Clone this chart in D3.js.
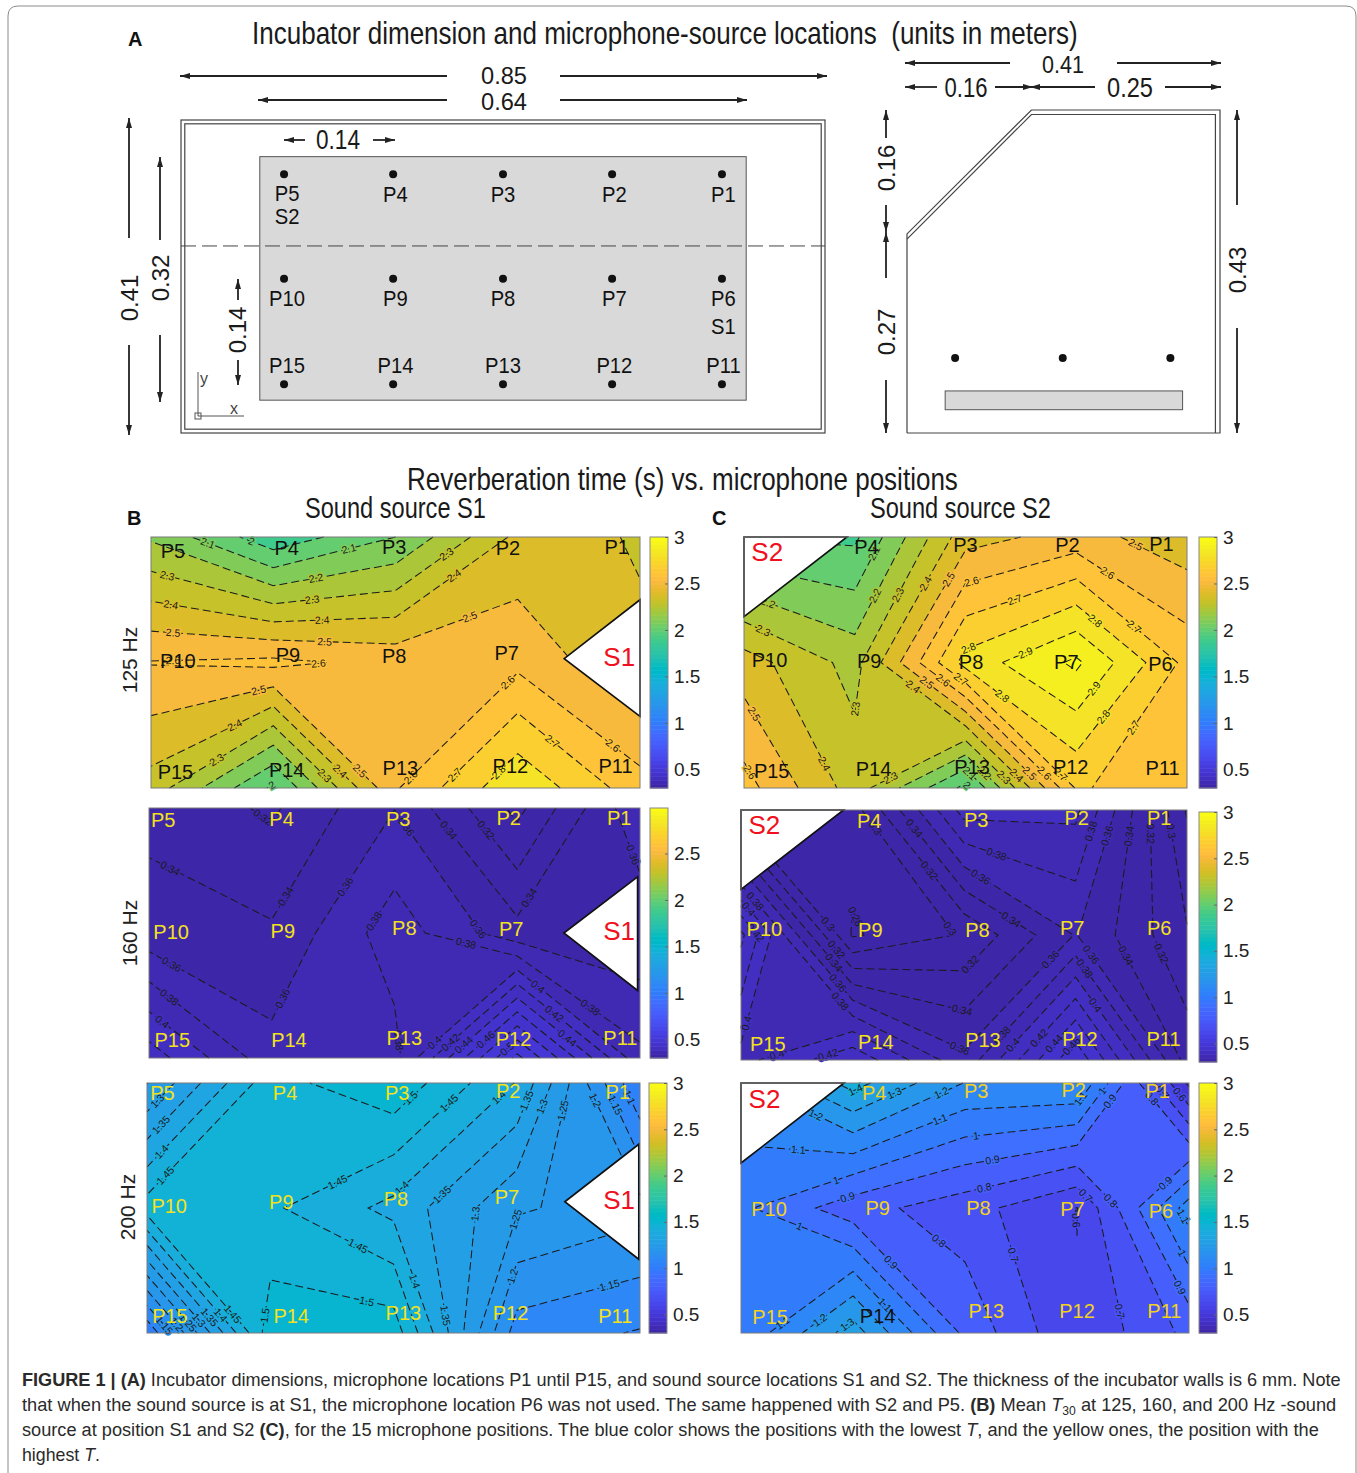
<!DOCTYPE html>
<html>
<head>
<meta charset="utf-8">
<title>Reverberation time vs microphone positions</title>
<script src="https://cdn.jsdelivr.net/npm/d3@7"></script>
<style>
body { margin: 0; background: #fff; }
text { font-family: "Liberation Sans", Arial, sans-serif; }
</style>
</head>
<body>
<script>
var t125S1 = [2.185,1.93,2.10,2.426,2.395, 2.605,2.625,2.569,2.575,2.41, 2.357,1.98,2.59,2.885,2.64],
    t125S2 = [1.995,1.98,2.46,2.54,2.44, 2.447,2.263,2.84,3.02,2.67, 2.64,2.354,1.97,2.71,2.64],
    t160S1 = [.335,.3168,.3595,.294,.3765, .3476,.3428,.391,.347,.345, .431,.3675,.372,.526,.385],
    t160S2 = [.284,.29,.408,.405,.278, .445,.2775,.302,.361,.302, .393,.436,.365,.477,.332],
    t200S1 = [1.248,1.482,1.538,1.397,1.052, 1.474,1.458,1.385,1.258,1.217, 1.058,1.531,1.53,1.126,1.096],
    t200S2 = [1.18,1.438,1.196,1.2,.48, 1.02,.84,.743,.598,1.15, 1.016,1.352,.875,.607,.827];

var levels125 = [1.9,2,2.1,2.2,2.3,2.4,2.5,2.6,2.7,2.8,2.9,3],
    levels160 = [.26,.28,.3,.32,.34,.36,.38,.4,.42,.44,.46,.48,.5,.52],
    levels200S1 = [1,1.05,1.1,1.15,1.2,1.25,1.3,1.35,1.4,1.45,1.5],
    levels200S2 = [.4,.5,.6,.7,.8,.9,1,1.1,1.2,1.3,1.4];

var tickValues = [.5,1,1.5,2,2.5,3];

// contour labels: level, column, row (column 0..4, row 0..2 on the microphone grid)
var labels125S1 = [[2.1,.46,.06],[2,.82,.04],[2.1,1.62,.10],[2.3,.13,.32],[2.2,1.35,.33],[2.3,1.32,.51],[2.4,.16,.55],[2.4,1.40,.67],[2.5,.18,.78],[2.5,1.42,.84],[2.6,1.37,1.01],[2.3,2.42,.14],[2.4,2.48,.31],[2.5,2.61,.64],[2.6,2.92,1.16],[2.5,.88,1.22],[2.4,.69,1.51],[2.3,.54,1.78],[2.3,1.42,1.90],[2.4,1.54,1.87],[2.5,1.70,1.87],[2.6,2.14,1.93],[2.7,2.48,1.89],[2.8,2.84,1.87],[2.7,3.28,1.63],[2.6,3.77,1.67],[2,.99,1.98],[2.6,.18,1]],
    labels125S2 = [[2.2,.22,.52],[2.1,1.18,.13],[2.2,1.19,.47],[2.3,1.39,.46],[2.4,1.64,.37],[2.5,1.85,.34],[2.6,2.05,.34],[2.7,2.44,.49],[2.8,2.02,.87],[2.9,2.54,.92],[2.5,3.53,.07],[2.6,3.28,.29],[2.7,3.53,.71],[2.8,3.17,.67],[2.9,3.18,1.22],[2.8,2.33,1.27],[2.8,3.27,1.45],[2.7,3.5,1.51],[2.3,.17,.75],[2.3,1.01,1.37],[2.4,1.52,1.2],[2.5,1.64,1.17],[2.6,1.79,1.15],[2.7,1.95,1.14],[2.5,.09,1.41],[2.4,.72,1.81],[2.6,.06,1.87],[2.3,1.33,1.93],[2.2,2.16,1.89],[2.1,2.03,1.89],[2,2.02,1.97],[2.3,2.35,1.91],[2.4,2.46,1.9],[2.5,2.57,1.89],[2.6,2.7,1.89],[2.7,2.86,1.89]],
    labels160S1 = [[.32,.91,.1],[.34,.19,.45],[.34,1.12,.71],[.36,1.6,.63],[.36,1.08,1.52],[.36,.18,1.26],[.38,.16,1.52],[.4,.1,1.72],[.36,2.08,.16],[.34,2.44,.18],[.32,2.74,.18],[.34,3.1,.72],[.36,3.93,.38],[.38,1.84,.91],[.36,2.68,.97],[.38,2.58,1.09],[.4,3.16,1.44],[.38,3.57,1.63],[.42,3.29,1.66],[.44,3.4,1.85],[.4,2.33,1.88],[.42,2.46,1.88],[.44,2.57,1.9],[.46,2.75,1.86],[.38,2.02,1.86],[.5,2.91,1.92]],
    labels160S2 = [[.3,1.18,.16],[.34,1.55,.15],[.32,1.68,.49],[.38,2.29,.36],[.36,2.14,.55],[.34,2.42,.88],[.3,1.86,.96],[.32,2.06,1.24],[.34,1.98,1.61],[.36,1.94,1.95],[.38,3.14,.17],[.36,3.3,.21],[.34,3.49,.21],[.32,3.67,.19],[.3,3.85,.17],[.36,2.78,1.2],[.36,3.15,1.15],[.38,3.08,1.27],[.34,3.44,1.17],[.32,3.76,1.15],[.4,3.18,1.56],[.42,2.68,1.83],[.44,2.81,1.87],[.46,2.99,1.91],[.4,2.45,1.89],[.38,2.35,1.81],[.28,1.03,.85],[.3,.77,.92],[.32,.85,1.12],[.34,.82,1.23],[.36,.86,1.39],[.38,.89,1.53],[.4,.07,1.71],[.4,.32,1.95],[.42,.78,1.96],[.38,.14,.72],[.4,.07,.79],[.42,.11,1]],
    labels200S1 = [[1.3,.09,.15],[1.35,.12,.34],[1.4,.12,.55],[1.45,.16,.75],[1.5,2.15,.13],[1.45,2.46,.17],[1.4,2.85,.11],[1.35,3.08,.14],[1.3,3.21,.19],[1.25,3.38,.22],[1.2,3.61,.15],[1.15,3.77,.19],[1.1,3.88,.13],[1.45,1.55,.8],[1.4,2.06,.83],[1.35,2.39,.89],[1.3,2.7,1.05],[1.25,3.02,1.1],[1.45,1.71,1.31],[1.4,2.16,1.59],[1.5,1.78,1.76],[1.35,2.42,1.86],[1.2,2.98,1.55],[1.15,3.75,1.61],[1.5,.96,1.86],[1.45,.68,1.86],[1.4,.58,1.87],[1.35,.51,1.87],[1.3,.43,1.89],[1.25,.34,1.91],[1.2,.24,1.93],[1.15,.16,1.92]],
    labels200S2 = [[1.4,1.03,.07],[1.3,1.37,.08],[1.2,1.79,.08],[1.2,.66,.27],[1.1,.51,.55],[1.1,1.78,.3],[1,2.1,.43],[1,.85,.78],[.9,.95,.91],[.9,2.25,.64],[.8,2.18,.87],[.7,3.08,.9],[.8,3.29,.95],[.9,3.8,.81],[1.1,3.04,.13],[1,3.22,.06],[.9,3.3,.15],[.8,3.66,.13],[.7,3.77,.07],[.6,3.89,.11],[.6,2.98,1.1],[1,.52,1.15],[.9,1.32,1.45],[.8,1.76,1.27],[.7,2.45,1.37],[.7,3.36,1.83],[1.1,3.94,1.07],[1,3.92,1.37],[.9,3.93,1.63],[1.1,.38,1.93],[1.2,.7,1.89],[1.3,.93,1.91],[1.1,1.29,1.77]];

// microphone names and where they sit on each panel
var mics125S1 = [["P5",.18,.107],["P4",1.11,.09],["P3",1.99,.08],["P2",2.92,.09],["P1",3.81,.075],["P10",.22,.987],["P9",1.12,.94],["P8",1.99,.947],["P7",2.91,.92],["P15",.2,1.867],["P14",1.11,1.856],["P13",2.04,1.84],["P12",2.94,1.82],["P11",3.8,1.82]],
    mics125S2 = [["P4",1.105,.075],["P3",2,.06],["P2",2.92,.06],["P1",3.77,.053],["P10",.23,.98],["P9",1.13,.99],["P8",2.05,.995],["P7",2.91,.995],["P6",3.76,1.01],["P15",.25,1.86],["P14",1.17,1.85],["P13",2.06,1.835],["P12",2.95,1.835],["P11",3.78,1.84]],
    mics160S1 = [["P5",.115,.096],["P4",1.08,.083],["P3",2.03,.083],["P2",2.93,.075],["P1",3.83,.075],["P10",.18,.99],["P9",1.09,.98],["P8",2.08,.96],["P7",2.95,.97],["P15",.19,1.856],["P14",1.14,1.856],["P13",2.08,1.84],["P12",2.97,1.85],["P11",3.84,1.835]],
    mics160S2 = [["P4",1.15,.085],["P3",2.11,.08],["P2",3.01,.06],["P1",3.75,.06],["P10",.21,.947],["P9",1.16,.955],["P8",2.12,.955],["P7",2.97,.94],["P6",3.75,.94],["P15",.24,1.867],["P14",1.21,1.853],["P13",2.17,1.835],["P12",3.04,1.827],["P11",3.79,1.827]],
    mics200S1 = [["P5",.125,.08],["P4",1.12,.08],["P3",2.03,.08],["P2",2.93,.064],["P1",3.82,.07],["P10",.18,.98],["P9",1.09,.947],["P8",2.02,.93],["P7",2.92,.91],["P15",.186,1.86],["P14",1.17,1.86],["P13",2.08,1.84],["P12",2.95,1.84],["P11",3.8,1.86]],
    mics200S2 = [["P4",1.19,.08],["P3",2.1,.064],["P2",2.97,.053],["P1",3.72,.06],["P10",.25,1.01],["P9",1.22,1],["P8",2.12,1],["P7",2.96,1.005],["P6",3.75,1.024],["P15",.26,1.867],["P14",1.22,1.86],["P13",2.19,1.824],["P12",3,1.824],["P11",3.78,1.82]];

// parula
var parula = [[.2422,.1504,.6603],[.2504,.165,.7076],[.2578,.1818,.7511],[.2647,.1978,.7952],[.2706,.2147,.8364],[.2751,.2342,.871],[.2783,.2559,.8991],[.2803,.2782,.9221],[.2813,.3006,.9414],[.281,.3228,.9579],[.2795,.3447,.9717],[.276,.3667,.9829],[.2699,.3892,.9906],[.2602,.4123,.9952],[.244,.4358,.9988],[.2206,.4603,.9973],[.1963,.4847,.9892],[.1834,.5074,.9798],[.1786,.5289,.9682],[.1764,.5499,.952],[.1687,.5703,.9359],[.154,.5902,.9218],[.146,.6091,.9079],[.138,.6276,.8973],[.1248,.6459,.8883],[.1113,.6635,.8763],[.0952,.6798,.8598],[.0689,.6948,.8394],[.0297,.7082,.8163],[.0036,.7203,.7917],[.0067,.7312,.766],[.0433,.7411,.7394],[.0964,.75,.712],[.1408,.7584,.6842],[.1717,.767,.6554],[.1938,.7758,.6251],[.2161,.7843,.5923],[.247,.7918,.5567],[.2906,.7973,.5188],[.3406,.8008,.4789],[.3909,.8029,.4354],[.4456,.8024,.3909],[.5044,.7993,.348],[.5616,.7942,.3045],[.6174,.7876,.2612],[.672,.7793,.2227],[.7242,.7698,.191],[.7738,.7598,.1646],[.8203,.7498,.1535],[.8634,.7406,.1596],[.9035,.733,.1774],[.9393,.7288,.21],[.9728,.7298,.2394],[.9956,.7434,.2371],[.997,.7659,.2199],[.9952,.7861,.1994],[.9892,.8137,.1885],[.9786,.8394,.1728],[.9676,.865,.1496],[.961,.8903,.1535],[.9597,.9135,.1423],[.9628,.9373,.1265],[.9691,.9606,.1064],[.9769,.9839,.0805]]
  .map(function(c) { return d3.rgb(c[0]*255, c[1]*255, c[2]*255).formatHex(); });

var cmin = .3, cmax = 3;
var color = d3.scaleQuantize().domain([cmin, cmax]).range(parula);

var svg = d3.select("body").append("svg")
    .attr("width", 1357)
    .attr("height", 1473);

svg.append("defs").selectAll("marker")
    .data(["head"])
    .enter().append("marker")
      .attr("id", "head")
      .attr("viewBox", "0 0 10 6")
      .attr("refX", 10)
      .attr("refY", 3)
      .attr("markerWidth", 10)
      .attr("markerHeight", 6)
      .attr("markerUnits", "userSpaceOnUse")
      .attr("orient", "auto")
    .append("path")
      .attr("d", "M0,0L10,3L0,6Z")
      .attr("fill", "#222");

// frame round the figure
svg.append("path")
    .attr("d", "M8,1473V16Q8,6 18,6H1346Q1356,6 1356,16V1473")
    .attr("fill", "none")
    .attr("stroke", "#8a8a8a");

// squeeze a text so it fills the given width
function fit(sel, x, y, w) {
  var natural = sel.node().getComputedTextLength();
  sel.attr("transform", "translate(" + x + "," + y + ") scale(" + (w / natural) + ",1)")
     .attr("x", 0).attr("y", 0);
  return sel;
}

function title(str, x, y, w, size) {
  return fit(svg.append("text").attr("font-size", size).attr("fill", "#1a1a1a").text(str), x, y, w);
}

//////////////// Section A: plan and side view
var planX = d3.scaleLinear().domain([0, .85]).range([181, 825]),
    planY = d3.scaleLinear().domain([0, .41]).range([433, 120]),
    sideX = d3.scaleLinear().domain([0, .41]).range([907, 1220]),
    sideY = d3.scaleLinear().domain([0, .43]).range([433, 110]);

var micX = [.136,.28,.425,.569,.714],
    micY = [.339,.202,.064],
    sideMicX = [.063,.204,.345];

var planNames = [["P5",.14,.3045],["P4",.283,.3026],["P3",.425,.3026],["P2",.572,.3026],["P1",.716,.3026],["S2",.14,.274],
                 ["P10",.14,.1664],["P9",.283,.1664],["P8",.425,.1664],["P7",.572,.1664],["P6",.716,.1664],["S1",.716,.1297],
                 ["P15",.14,.0786],["P14",.283,.0786],["P13",.425,.0786],["P12",.572,.0786],["P11",.716,.0786]];

var plan = svg.append("g");
plan.append("rect").attr("x", planX(0)).attr("y", planY(.41)).attr("width", planX(.85)-planX(0)).attr("height", planY(0)-planY(.41))
    .attr("fill", "none").attr("stroke", "#444").attr("stroke-width", 1.2);
plan.append("rect").attr("x", planX(.005)).attr("y", planY(.405)).attr("width", planX(.845)-planX(.005)).attr("height", planY(.005)-planY(.405))
    .attr("fill", "none").attr("stroke", "#444").attr("stroke-width", 1.2);
plan.append("rect").attr("x", planX(.104)).attr("y", planY(.362)).attr("width", planX(.746)-planX(.104)).attr("height", planY(.043)-planY(.362))
    .attr("fill", "#d9d9d9").attr("stroke", "#555");
plan.append("line").attr("x1", planX(0)).attr("x2", planX(.85)).attr("y1", planY(.245)).attr("y2", planY(.245))
    .attr("stroke", "#444").attr("stroke-dasharray", "15,6");

micY.forEach(function(y) {
  plan.selectAll(null).data(micX).enter().append("circle")
      .attr("cx", function(x) { return planX(x); })
      .attr("cy", planY(y))
      .attr("r", 4).attr("fill", "#111");
});

plan.selectAll(null).data(planNames).enter().append("text")
    .attr("font-size", 22)
    .attr("text-anchor", "middle")
    .attr("fill", "#111")
    .attr("transform", function(d) { return "translate(" + planX(d[1]) + "," + planY(d[2]) + ") scale(.92,1)"; })
    .text(function(d) { return d[0]; });

// little x/y symbol
plan.append("path").attr("d", "M198,372V416H244").attr("fill", "none").attr("stroke", "#555");
plan.append("rect").attr("x", 195).attr("y", 413).attr("width", 6).attr("height", 6).attr("fill", "none").attr("stroke", "#555");
plan.append("text").attr("x", 200).attr("y", 384).attr("font-size", 16).attr("fill", "#444").text("y");
plan.append("text").attr("x", 230).attr("y", 414).attr("font-size", 16).attr("fill", "#444").text("x");

var sideOuter = [[0,0],[0,.265],[.163,.43],[.41,.43],[.41,0],[0,0]],
    sideInner = [[0,.258],[.163,.424],[.404,.424],[.404,0]];
var sideLine = d3.line().x(function(d) { return sideX(d[0]); }).y(function(d) { return sideY(d[1]); });
[sideOuter, sideInner].forEach(function(p) {
  svg.append("path").attr("d", sideLine(p)).attr("fill", "none").attr("stroke", "#444").attr("stroke-width", 1.2);
});
svg.append("rect").attr("x", sideX(.05)).attr("y", sideY(.056)).attr("width", sideX(.361)-sideX(.05)).attr("height", sideY(.031)-sideY(.056))
    .attr("fill", "#d9d9d9").attr("stroke", "#555");
svg.selectAll(null).data(sideMicX).enter().append("circle")
    .attr("cx", function(x) { return sideX(x); })
    .attr("cy", sideY(.1))
    .attr("r", 4).attr("fill", "#111");

// dimension arrows: from x,y to x,y
var arrows = [[447,76,180,76],[560,76,827,76],[447,100,258,100],[560,100,747,100],[305,140,284,140],[373,140,395,140],
              [1010,63,905,63],[1117,63,1221,63],[937,87,905,87],[995,87,1033,87],[1095,87,1030,87],[1165,87,1221,87],
              [129,238,129,118],[129,345,129,435],[160,240,160,157],[160,335,160,402],[238,300,238,279],[238,360,238,385],
              [886,138,886,110],[886,205,886,232],[886,278,886,232],[886,380,886,433],[1237,205,1237,110],[1237,328,1237,433]];
svg.selectAll(null).data(arrows).enter().append("line")
    .attr("x1", function(d) { return d[0]; })
    .attr("y1", function(d) { return d[1]; })
    .attr("x2", function(d) { return d[2]; })
    .attr("y2", function(d) { return d[3]; })
    .attr("stroke", "#222")
    .attr("stroke-width", 1.8)
    .attr("marker-end", "url(#head)");

// dimension numbers
var dimsH = [["0.85",504,84,46,23],["0.64",504,110,46,23],["0.14",338,149,44,28],["0.41",1063,73,42,24],["0.16",966,97,43,28],["0.25",1130,97,46,28]],
    dimsV = [["0.41",138,298],["0.32",169,278],["0.14",246,330],["0.16",895,168],["0.27",895,332],["0.43",1246,270]];
dimsH.forEach(function(d) {
  title(d[0], d[1] - d[3] / 2, d[2], d[3], d[4]);
});
svg.selectAll(null).data(dimsV).enter().append("text")
    .attr("font-size", 24)
    .attr("text-anchor", "middle")
    .attr("fill", "#1a1a1a")
    .attr("transform", function(d) { return "translate(" + d[1] + "," + d[2] + ") rotate(-90)"; })
    .text(function(d) { return d[0]; });

title("Incubator dimension and microphone-source locations \u00a0(units in meters)", 252, 44, 826, 32);
title("Reverberation time (s) vs. microphone positions", 407, 490, 551, 32);
title("Sound source S1", 305, 518, 181, 29);
title("Sound source S2", 870, 518, 181, 29);

svg.selectAll(null).data([["A",128,46],["B",127,525],["C",712,525]]).enter().append("text")
    .attr("x", function(d) { return d[1]; })
    .attr("y", function(d) { return d[2]; })
    .attr("font-size", 20)
    .attr("font-weight", "bold")
    .attr("fill", "#111")
    .text(function(d) { return d[0]; });

svg.selectAll(null).data([["125 Hz",137,660],["160 Hz",137,933],["200 Hz",135,1207]]).enter().append("text")
    .attr("font-size", 21)
    .attr("text-anchor", "middle")
    .attr("fill", "#222")
    .attr("transform", function(d) { return "translate(" + d[1] + "," + d[2] + ") rotate(-90)"; })
    .text(function(d) { return d[0]; });

//////////////// Contour panels
var maskS1a = [[3.38,.97],[4,.5],[4,1.43]],
    maskS1b = [[3.38,1],[3.98,.55],[3.98,1.46]],
    maskS1c = [[3.39,.95],[3.99,.49],[3.99,1.41]],
    maskS2a = [[0,0],[.93,0],[0,.635]],
    maskS2b = [[0,0],[.92,0],[0,.635]],
    maskS2c = [[0,0],[.92,0],[0,.64]];

var panels = [
  {id:"b125", values:t125S1, levels:levels125,   labels:labels125S1, mics:mics125S1, ink:"#111",    box:[151,640,537,788],  bar:[650,668,537,788],   cmaxBar:3,    mask:maskS1a, src:["S1",3.83,.95]},
  {id:"c125", values:t125S2, levels:levels125,   labels:labels125S2, mics:mics125S2, ink:"#111",    box:[744,1187,537,788], bar:[1199,1217,537,788], cmaxBar:3,    mask:maskS2a, src:["S2",.21,.115]},
  {id:"b160", values:t160S1, levels:levels160,   labels:labels160S1, mics:mics160S1, ink:"#f2e21c", box:[149,640,808,1058], bar:[650,668,808,1058],  cmaxBar:2.99, mask:maskS1b, src:["S1",3.83,.985]},
  {id:"c160", values:t160S2, levels:levels160,   labels:labels160S2, mics:mics160S2, ink:"#f2e21c", box:[741,1187,810,1060],bar:[1199,1217,812,1062],cmaxBar:3,    mask:maskS2b, src:["S2",.21,.12]},
  {id:"b200", values:t200S1, levels:levels200S1, labels:labels200S1, mics:mics200S1, ink:"#f2e21c", box:[147,640,1083,1333],bar:[649,667,1083,1333],cmaxBar:3,    mask:maskS1c, src:["S1",3.83,.93]},
  {id:"c200", values:t200S2, levels:levels200S2, labels:labels200S2, mics:mics200S2, ink:"#f2d21c", box:[741,1189,1083,1333],bar:[1199,1217,1083,1333],cmaxBar:3,   mask:maskS2c, src:["S2",.21,.125]}
];

// Marching squares on the 5x3 grid with straight lines inside a cell. d3.contours
// always resolves saddle cells one way, the original goes by the cell mean.
function isoCells(values, level, x, y) {
  var polys = [], segs = [];
  function v(c) { return values[c[1] * 5 + c[0]]; }
  function at(c) { return [x(c[0]), y(c[1])]; }
  for (var j = 0; j < 2; j++) for (var i = 0; i < 4; i++) {
    var corners = [[i,j],[i+1,j],[i+1,j+1],[i,j+1]],
        mean = d3.mean(corners, v),
        walk = [], cuts = [];
    corners.forEach(function(c, k) {
      var n = corners[(k + 1) % 4];
      if (v(c) >= level) walk.push(at(c));
      if ((v(c) >= level) != (v(n) >= level)) {
        var t = (level - v(c)) / (v(n) - v(c)),
            q = [x(c[0] + t * (n[0] - c[0])), y(c[1] + t * (n[1] - c[1]))];
        walk.push(q);
        cuts.push(q);
      }
    });
    if (cuts.length == 2) {
      segs.push([cuts[0], cuts[1]]);
      polys.push(walk);
    } else if (cuts.length == 4) {
      var firstHigh = v(corners[0]) >= level;
      // cuts come as edge ab, bc, cd, da
      if (firstHigh == (mean < level)) segs.push([cuts[3], cuts[0]], [cuts[1], cuts[2]]);
      else segs.push([cuts[0], cuts[1]], [cuts[2], cuts[3]]);
      if (mean >= level) polys.push(walk);
      else if (firstHigh) polys.push([cuts[3], at(corners[0]), cuts[0]], [cuts[1], at(corners[2]), cuts[2]]);
      else polys.push([cuts[0], at(corners[1]), cuts[1]], [cuts[2], at(corners[3]), cuts[3]]);
    } else if (walk.length == 4) {
      polys.push(walk);
    }
  }
  return {polys: polys, segs: segs};
}

// join cell segments so the dashes run on along a line
function chain(segs) {
  var rest = segs.slice(), lines = [];
  function same(a, b) { return Math.abs(a[0]-b[0]) < .01 && Math.abs(a[1]-b[1]) < .01; }
  while (rest.length) {
    var line = rest.pop().slice(), grown = true;
    while (grown) {
      grown = false;
      for (var k = 0; k < rest.length; k++) {
        var s = rest[k], head = line[0], tail = line[line.length-1];
        if (same(s[0], tail)) line.push(s[1]);
        else if (same(s[1], tail)) line.push(s[0]);
        else if (same(s[0], head)) line.unshift(s[1]);
        else if (same(s[1], head)) line.unshift(s[0]);
        else continue;
        rest.splice(k, 1);
        grown = true;
        break;
      }
    }
    lines.push(line);
  }
  return lines;
}

var polyPath = d3.line().curve(d3.curveLinearClosed),
    isoPath = d3.line();

panels.forEach(function(p) {
  var x = d3.scaleLinear().domain([0, 4]).range([p.box[0], p.box[1]]),
      y = d3.scaleLinear().domain([0, 2]).range([p.box[2], p.box[3]]);

  var bands = p.levels.map(function(level) {
    var c = isoCells(p.values, level, x, y);
    return {value: level, polys: c.polys, lines: chain(c.segs)};
  });

  var g = svg.append("g");

  g.selectAll(".band").data(bands).enter().append("path")
      .attr("class", "band")
      .attr("d", function(d) { return d.polys.map(polyPath).join(""); })
      .attr("fill", function(d) { return color(d.value); });

  g.selectAll(".iso").data(bands).enter().append("path")
      .attr("class", "iso")
      .attr("d", function(d) { return d.lines.map(isoPath).join(""); })
      .attr("fill", "none")
      .attr("stroke", "#1c1c1c")
      .attr("stroke-width", 1.05)
      .attr("stroke-dasharray", "8,4");

  // contour labels sit on the nearest stretch of their own line
  p.labels.forEach(function(l) {
    var px = x(l[1]), py = y(l[2]), best = null;
    var band = bands.filter(function(d) { return Math.abs(d.value - l[0]) < 1e-6; })[0];
    if (band) band.lines.forEach(function(pts) {
      for (var i = 1; i < pts.length; i++) {
        var a = pts[i-1], b = pts[i],
            dx = b[0] - a[0], dy = b[1] - a[1], len = dx*dx + dy*dy;
        if (!len) continue;
        var t = Math.max(0, Math.min(1, ((px-a[0])*dx + (py-a[1])*dy) / len)),
            qx = a[0] + t*dx, qy = a[1] + t*dy,
            dist = Math.hypot(px-qx, py-qy);
        if (!best || dist < best.dist) best = {x:qx, y:qy, dist:dist, angle:Math.atan2(dy, dx) * 180 / Math.PI};
      }
    });
    var angle = best ? best.angle : 0;
    if (angle > 90) angle -= 180;
    if (angle < -90) angle += 180;
    var near = best && best.dist < 22;
    g.append("text")
        .attr("transform", "translate(" + (near ? best.x : px) + "," + (near ? best.y : py) + ") rotate(" + (near ? angle : 0) + ")")
        .attr("dy", "0.35em")
        .attr("text-anchor", "middle")
        .attr("font-size", 10.5)
        .attr("fill", "#1a1a1a")
        .attr("stroke", color(l[0]))
        .attr("stroke-width", 3)
        .attr("paint-order", "stroke")
        .text(String(l[0]));
  });

  // the source corner is not measured
  var maskLine = d3.line().x(function(d) { return x(d[0]); }).y(function(d) { return y(d[1]); }).curve(d3.curveLinearClosed);
  svg.append("path")
      .attr("d", maskLine(p.mask))
      .attr("fill", "#fff")
      .attr("stroke", "#111")
      .attr("stroke-width", 1.6);

  svg.append("rect")
      .attr("x", p.box[0]).attr("y", p.box[2])
      .attr("width", p.box[1] - p.box[0]).attr("height", p.box[3] - p.box[2])
      .attr("fill", "none").attr("stroke", "#7a7a7a");

  svg.selectAll(null).data(p.mics).enter().append("text")
      .attr("x", function(d) { return x(d[1]); })
      .attr("y", function(d) { return y(d[2]); })
      .attr("dy", "0.36em")
      .attr("text-anchor", "middle")
      .attr("font-size", 20)
      .attr("fill", function(d) { return p.id == "c200" && d[0] == "P14" ? "#111" : p.ink; })
      .text(function(d) { return d[0]; });

  svg.append("text")
      .attr("x", x(p.src[1]))
      .attr("y", y(p.src[2]))
      .attr("dy", "0.36em")
      .attr("text-anchor", "middle")
      .attr("font-size", 26)
      .attr("fill", "#f01020")
      .text(p.src[0]);

  // colour bar
  var cy = d3.scaleLinear().domain([cmin, p.cmaxBar]).range([p.bar[3], p.bar[2]]);
  var step = (cmax - cmin) / parula.length;
  svg.selectAll(null).data(parula).enter().append("rect")
      .attr("x", p.bar[0])
      .attr("width", p.bar[1] - p.bar[0])
      .attr("y", function(d, i) { return cy(Math.min(p.cmaxBar, cmin + (i + 1) * step)) ; })
      .attr("height", function(d, i) { return Math.max(0, cy(cmin + i * step) - cy(Math.min(p.cmaxBar, cmin + (i + 1) * step))) + .5; })
      .attr("fill", function(d) { return d; });
  svg.append("rect")
      .attr("x", p.bar[0]).attr("y", p.bar[2])
      .attr("width", p.bar[1] - p.bar[0]).attr("height", p.bar[3] - p.bar[2])
      .attr("fill", "none").attr("stroke", "#888");

  var axis = svg.append("g")
      .attr("transform", "translate(" + p.bar[1] + ",0)")
      .call(d3.axisRight(cy)
        .tickValues(tickValues.filter(function(t) { return t <= p.cmaxBar; }))
        .tickFormat(String)
        .tickSize(-3)
        .tickPadding(6));
  axis.select(".domain").remove();
  axis.selectAll("line").attr("stroke", "#666");
  axis.selectAll("text")
      .attr("font-size", 19)
      .attr("font-family", "Liberation Sans, Arial, sans-serif")
      .attr("fill", "#222");
});

//////////////// Caption
var captionLines = [
  [["FIGURE 1 | (A) ","b"],["Incubator dimensions, microphone locations P1 until P15, and sound source locations S1 and S2. The thickness of the incubator walls is 6 mm. Note",""]],
  [["that when the sound source is at S1, the microphone location P6 was not used. The same happened with S2 and P5. ",""],["(B) ","b"],["Mean ",""],["T","i"],["30","s"],[" at 125, 160, and 200 Hz -sound",""]],
  [["source at position S1 and S2 ",""],["(C)","b"],[", for the 15 microphone positions. The blue color shows the positions with the lowest ",""],["T","i"],[", and the yellow ones, the position with the",""]],
  [["highest ",""],["T","i"],[".",""]]
];
var captionY = [1386,1411,1436,1461],
    captionW = [1320,1315,1298,78];

captionLines.forEach(function(line, i) {
  var t = svg.append("text").attr("font-size", 18).attr("fill", "#2a2a2a");
  line.forEach(function(seg, k) {
    var s = t.append("tspan").text(seg[0]);
    if (seg[1] == "b") s.attr("font-weight", "bold");
    if (seg[1] == "i") s.attr("font-style", "italic");
    if (seg[1] == "s") s.attr("font-size", 12).attr("dy", 4);
    // back to the baseline after the subscript
    if (k && line[k-1][1] == "s") s.attr("dy", -4);
  });
  fit(t, 22, captionY[i], captionW[i]);
});
</script>
</body>
</html>
